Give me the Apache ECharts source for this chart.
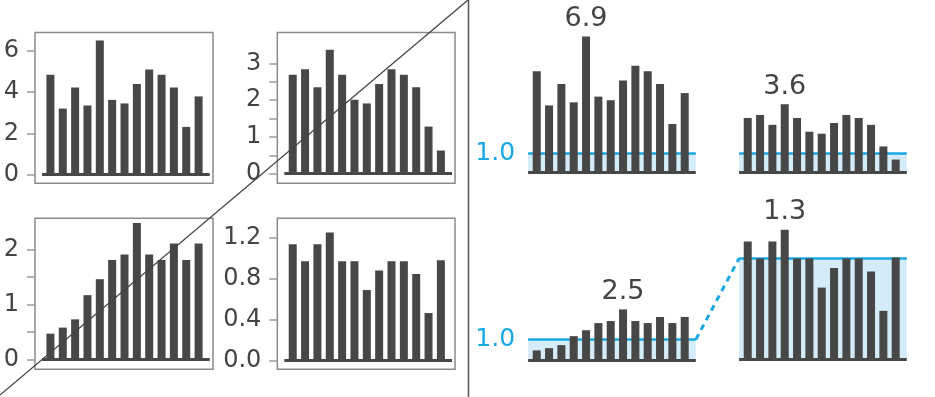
<!DOCTYPE html>
<html lang="en">
<head>
<meta charset="UTF-8">
<title>Raw vs normalised bars</title>
<script src="https://cdn.jsdelivr.net/npm/echarts@6/dist/echarts.min.js"></script>
<style>
    html, body { margin: 0; padding: 0; background: #fff; }
    #chart { width: 935px; height: 397px; }
</style>
</head>
<body>
<div id="chart"></div>
<script>
// values, 13 bars per panel
const seriesA = [4.84, 3.2, 4.22, 3.35, 6.5, 3.62, 3.45, 4.39, 5.1, 4.84, 4.22, 2.31, 3.79];
const seriesB = [2.69, 2.84, 2.35, 3.37, 2.69, 2.01, 1.91, 2.44, 2.84, 2.69, 2.35, 1.28, 0.63];
const seriesC = [0.47, 0.58, 0.73, 1.17, 1.46, 1.81, 1.91, 2.48, 1.91, 1.81, 2.11, 1.81, 2.11];
const seriesD = [1.135, 0.97, 1.135, 1.25, 0.97, 0.97, 0.69, 0.88, 0.97, 0.97, 0.845, 0.465, 0.98];

const peakLabels = ['6.9', '3.6', '2.5', '1.3'];
const refLevels = [0.895, 0.925, 1.0, 0.973];
const refText = '1.0';

const barColor = '#474747';
const blue = '#19a8e2';
const shade = '#d4ebf9';

// left panels: the y axis sits on the frame, so the x range starts further left
const leftMin = -1.25, leftMax = 12.9, baseStart = -0.68;
// right panels: no y axis, the grid starts where the base line starts
const rightMin = -0.7, rightMax = 12.9;

const leftPanels = [
    { data: seriesA, left: 35, top: 50.9, height: 123.6, max: 6, interval: 2, fmt: v => v },
    { data: seriesB, left: 277.3, top: 63.3, height: 110.4, max: 3, interval: 0.5, fmt: v => (v % 1 === 0 ? v : '') },
    { data: seriesC, left: 35, top: 249.5, height: 110, max: 2, interval: 0.5, fmt: v => (v % 1 === 0 ? v : '') },
    { data: seriesD, left: 277.3, top: 237.7, height: 123, max: 1.2, interval: 0.4, fmt: v => v.toFixed(1) }
];

const rightPanels = [
    { data: seriesA, left: 528.1, top: 46.9, height: 125.4, max: 6, showRef: true },
    { data: seriesB, left: 739.1, top: 111.7, height: 60.6, max: 3, showRef: false },
    { data: seriesC, left: 528.1, top: 319.2, height: 40.8, max: 2, showRef: true },
    { data: seriesD, left: 739.1, top: 234.8, height: 124.2, max: 1.2, showRef: false }
];

const grid = [], xAxis = [], yAxis = [], series = [];

function hiddenX(i, min, max) {
    xAxis.push({
        type: 'value', gridIndex: i, min: min, max: max,
        axisLine: { show: false }, axisTick: { show: false },
        axisLabel: { show: false }, splitLine: { show: false }
    });
}

function barSeries(i, data, peak, from, to) {
    let top = 0;
    data.forEach((v, k) => { if (v > data[top]) top = k; });
    return {
        type: 'bar', xAxisIndex: i, yAxisIndex: i, barWidth: 8, clip: false, z: 3,
        itemStyle: { color: barColor },
        data: data.map((v, k) => {
            if (peak && k === top) {
                return {
                    value: [k, v],
                    label: { show: true, position: 'top', distance: 4, formatter: peak, fontSize: 27, color: '#444' }
                };
            }
            return [k, v];
        }),
        // the thick base line under the bars
        markLine: {
            silent: true, symbol: 'none', z: 4,
            lineStyle: { color: '#474747', width: 3, type: 'solid' },
            label: { show: false },
            data: [[{ coord: [from, 0] }, { coord: [to, 0] }]]
        }
    };
}

leftPanels.forEach((p, i) => {
    grid.push({ left: p.left, top: p.top, width: 174.7, height: p.height, outerBoundsMode: 'none' });
    hiddenX(i, leftMin, leftMax);
    yAxis.push({
        type: 'value', gridIndex: i, position: 'left', min: 0, max: p.max, interval: p.interval,
        axisLine: { show: true, onZero: false, lineStyle: { color: 'rgba(0,0,0,0)', width: 0 } },
        axisTick: { show: true, inside: false, length: 8, lineStyle: { color: '#9a9a9a', width: 1.5 } },
        axisLabel: { margin: 16, fontSize: 24, color: '#444', formatter: p.fmt },
        splitLine: { show: false }
    });
    series.push(barSeries(i, p.data, null, baseStart, leftMax));
});

rightPanels.forEach((p, j) => {
    const i = j + 4;
    grid.push({ left: p.left, top: p.top, width: 167.7, height: p.height, outerBoundsMode: 'none' });
    hiddenX(i, rightMin, rightMax);
    yAxis.push({ type: 'value', gridIndex: i, min: 0, max: p.max, show: false, splitLine: { show: false } });
    series.push({
        type: 'line', xAxisIndex: i, yAxisIndex: i, data: [], z: 1,
        markArea: {
            silent: true, z: 1, itemStyle: { color: shade },
            data: [[{ yAxis: 0 }, { yAxis: refLevels[j] }]]
        },
        markLine: {
            silent: true, symbol: 'none', z: 2,
            lineStyle: { color: blue, width: 2.5, type: 'solid' },
            label: { show: p.showRef, position: 'start', distance: 13, formatter: refText, fontSize: 25, color: blue },
            data: [{ yAxis: refLevels[j] }]
        }
    });
    series.push(barSeries(i, p.data, peakLabels[j], rightMin, rightMax));
});

// frames round the raw panels, plus the two dividing strokes
const frames = [[35, 32.5, 178, 150.8], [277.3, 32.5, 177.7, 150.8], [35, 218.3, 178, 151], [277.3, 218.3, 177.7, 151]];
const graphic = frames.map(f => ({
    type: 'rect', shape: { x: f[0], y: f[1], width: f[2], height: f[3] },
    style: { fill: 'none', stroke: '#8a8a8a', lineWidth: 1.5 }, z: 0
}));
graphic.push({ type: 'line', shape: { x1: 0, y1: 395, x2: 468, y2: 0 }, style: { stroke: '#444', lineWidth: 1.3 }, z: 100 });
graphic.push({ type: 'line', shape: { x1: 468.5, y1: 0, x2: 468.5, y2: 397 }, style: { stroke: '#555', lineWidth: 1.5 }, z: 100 });

const chart = echarts.init(document.getElementById('chart'));
chart.setOption({
    animation: false,
    textStyle: { fontFamily: 'DejaVu Sans' },
    grid, xAxis, yAxis, series, graphic
});

// dashed link from the end of the lower-left 1.0 line to the start of the lower-right one
const p1 = chart.convertToPixel({ xAxisIndex: 6, yAxisIndex: 6 }, [rightMax, refLevels[2]]);
const p2 = chart.convertToPixel({ xAxisIndex: 7, yAxisIndex: 7 }, [rightMin, refLevels[3]]);
graphic.push({
    type: 'line', shape: { x1: p1[0], y1: p1[1], x2: p2[0], y2: p2[1] },
    style: { stroke: blue, lineWidth: 3, lineDash: [6, 5] }, z: 100
});
chart.setOption({ graphic });
</script>
</body>
</html>
